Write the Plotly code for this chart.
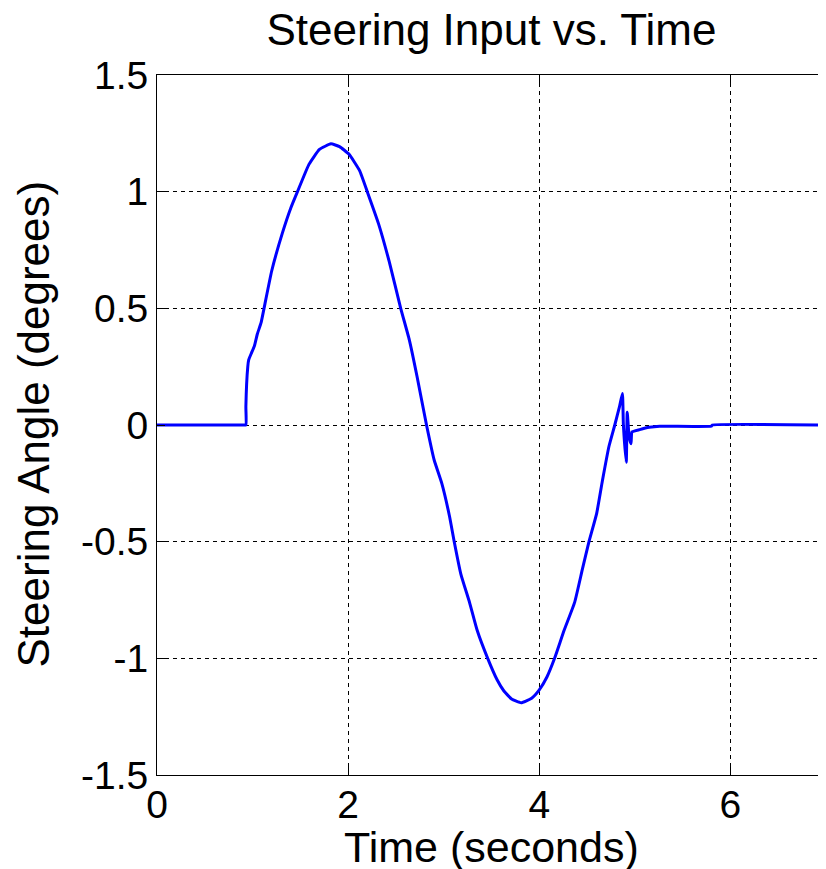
import plotly.graph_objects as go

# Data
time_s = [0, 0.5, 0.90, 0.93, 0.93, 0.95, 0.96, 0.99, 1.02, 1.05, 1.09, 1.12, 1.20, 1.31,
          1.40, 1.47, 1.59, 1.70, 1.82, 1.91, 2.01, 2.12, 2.20, 2.32, 2.43, 2.55,
          2.64, 2.72, 2.82, 2.90, 2.98, 3.06, 3.11, 3.18, 3.27, 3.35, 3.46, 3.56,
          3.63, 3.71, 3.81, 3.92, 4.00, 4.08, 4.16, 4.26, 4.37, 4.45, 4.52, 4.60,
          4.66, 4.73, 4.79, 4.84, 4.87, 4.88, 4.91, 4.92, 4.94, 4.96, 4.97, 5.05,
          5.15, 5.26, 5.80, 5.81, 7.0]
angle_deg = [0, 0, 0, 0, 0.08, 0.25, 0.28, 0.31, 0.34, 0.39, 0.44, 0.50, 0.66, 0.82,
             0.93, 1.0, 1.117, 1.181, 1.205, 1.193, 1.16, 1.09, 1.0, 0.86, 0.70, 0.50,
             0.365, 0.21, 0, -0.15, -0.25, -0.39, -0.50, -0.64, -0.76, -0.88, -1.0, -1.093,
             -1.14, -1.174, -1.19, -1.171, -1.135, -1.08, -1.0, -0.88, -0.76, -0.62, -0.50, -0.38,
             -0.24, -0.09, 0, 0.08, 0.135, 0.0, -0.16, 0.055, -0.05, -0.08, -0.03, -0.02,
             -0.01, -0.005, -0.005, 0, 0]

x_ticks = [0, 2, 4, 6]
y_ticks = [-1.5, -1, -0.5, 0, 0.5, 1, 1.5]
y_tick_labels = ["-1.5", "-1", "-0.5", "0", "0.5", "1", "1.5"]

FONT = "Liberation Sans, Arial, sans-serif"

fig = go.Figure()
fig.add_trace(go.Scatter(x=time_s, y=angle_deg, mode="lines",
                         line=dict(color="#0000ff", width=3, shape="spline", smoothing=0.4),
                         showlegend=False))

axis_common = dict(
    showgrid=True, gridcolor="black", gridwidth=1, griddash="4px,4px",
    zeroline=False, showline=True, linecolor="black", linewidth=1,
    ticks="inside", ticklen=8, tickcolor="black", tickwidth=1,
    tickfont=dict(family=FONT, size=39, color="black"),
)

# The page body has an 8px margin, so the figure is made 8px smaller
W, H = 818, 861
fig.update_layout(
    width=W, height=H,
    margin=dict(l=149, r=0, t=67, b=94),
    paper_bgcolor="white", plot_bgcolor="white",
    title=dict(text="Steering Input vs. Time", x=0.5, xref="paper",
               y=1 - 22 / H, yref="container", yanchor="middle", xanchor="center",
               font=dict(family=FONT, size=44, color="black")),
    xaxis=dict(range=[0, 7], tickvals=x_ticks, mirror="ticks", ticklabelstandoff=-5,
               **axis_common),
    yaxis=dict(range=[-1.5, 1.5], tickvals=y_ticks, ticktext=y_tick_labels,
               mirror=False, **axis_common),
    annotations=[
        dict(text="Time (seconds)", xref="paper", yref="paper", x=0.5, y=-0.103,
             xanchor="center", yanchor="middle", showarrow=False,
             font=dict(family=FONT, size=43, color="black")),
        dict(text="Steering Angle (degrees)", xref="paper", yref="paper", x=-0.185, y=0.501,
             xanchor="center", yanchor="middle", textangle=-90, showarrow=False,
             font=dict(family=FONT, size=44, color="black")),
    ],
)

fig.write_html("out.html")
